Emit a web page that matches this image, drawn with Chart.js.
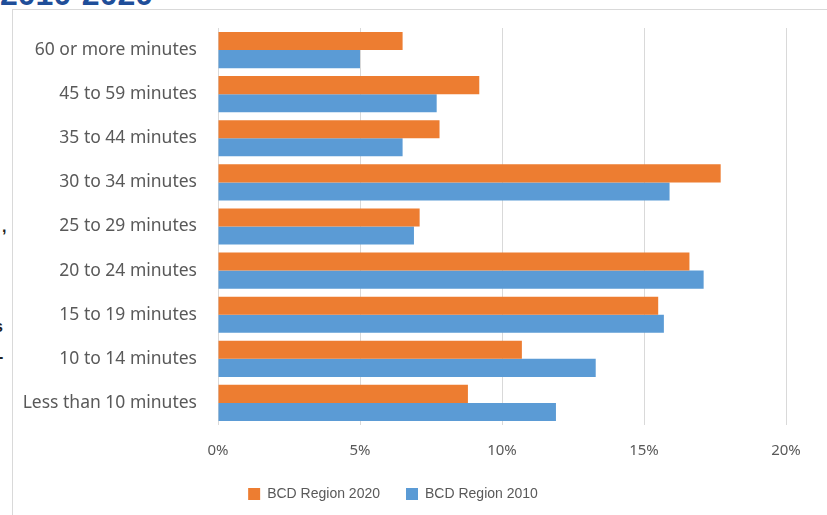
<!DOCTYPE html>
<html>
<head>
  <title>Commute times 2010-2020</title>
  <script src="https://cdn.jsdelivr.net/npm/chart.js"></script>
  <style>
    body { margin: 0; background: #fff; width: 827px; height: 515px; overflow: hidden; position: relative; font-family: "Liberation Sans", Arial, sans-serif; }
    .title { position: absolute; left: 0; top: -24px; font: bold 32px "Liberation Sans", Arial, sans-serif; color: #1f4e99; white-space: nowrap; }
    .frame { position: absolute; left: 12px; top: 9px; width: 900px; height: 600px; border: 1px solid #d9d9d9; }
    .bit { position: absolute; font: bold 16px "Liberation Sans", Arial, sans-serif; color: #222; }
    .wrap { position: absolute; left: 0; top: 0; width: 827px; height: 515px; }
  </style>
</head>
<body>
  <div class="title">2010-2020</div>
  <div class="frame"></div>
  <span class="bit" style="left:2px; top:218px;">,</span>
  <span class="bit" style="left:-6px; top:318px;">s</span>
  <span class="bit" style="left:-2px; top:348px;">-</span>
  <div class="wrap"><canvas id="commuteChart"></canvas></div>

  <script>
    const categories = ['60 or more minutes', '45 to 59 minutes', '35 to 44 minutes', '30 to 34 minutes',
      '25 to 29 minutes', '20 to 24 minutes', '15 to 19 minutes', '10 to 14 minutes', 'Less than 10 minutes'];
    const region2020 = [6.5, 9.2, 7.8, 17.7, 7.1, 16.6, 15.5, 10.7, 8.8];
    const region2010 = [5.0, 7.7, 6.5, 15.9, 6.9, 17.1, 15.7, 13.3, 11.9];
    const xTicks = [0, 5, 10, 15, 20];

    const textGray = '#595959';

    new Chart(document.getElementById('commuteChart').getContext('2d'), {
      type: 'bar',
      data: {
        labels: categories,
        datasets: [
          { label: 'BCD Region 2020', data: region2020, backgroundColor: '#ED7D31' },
          { label: 'BCD Region 2010', data: region2010, backgroundColor: '#5B9BD5' }
        ]
      },
      options: {
        indexAxis: 'y',
        responsive: true,
        maintainAspectRatio: false,
        animation: false,
        datasets: { bar: { categoryPercentage: 0.82, barPercentage: 1.0 } },
        layout: { padding: { left: 0, right: 41, top: 28, bottom: 4 } },
        scales: {
          x: {
            min: 0, max: 20,
            afterBuildTicks: (scale) => { scale.ticks = xTicks.map(v => ({ value: v })); },
            afterFit: (scale) => { scale.height = 36; },
            grid: { color: '#d9d9d9', drawTicks: false },
            border: { display: false },
            ticks: { color: textGray, padding: 17, font: { size: 15, family: 'Noto Sans' }, callback: v => v + '%' }
          },
          y: {
            afterFit: (scale) => { scale.width = 218; },
            grid: { display: false },
            border: { display: false },
            ticks: { color: textGray, padding: 13, font: { size: 17.5, family: 'Noto Sans' } }
          }
        },
        plugins: {
          legend: {
            position: 'bottom',
            labels: { color: textGray, boxWidth: 12, boxHeight: 12, padding: 26, font: { size: 14, family: 'Liberation Sans' } }
          },
          tooltip: { enabled: false }
        }
      }
    });
  </script>
</body>
</html>
